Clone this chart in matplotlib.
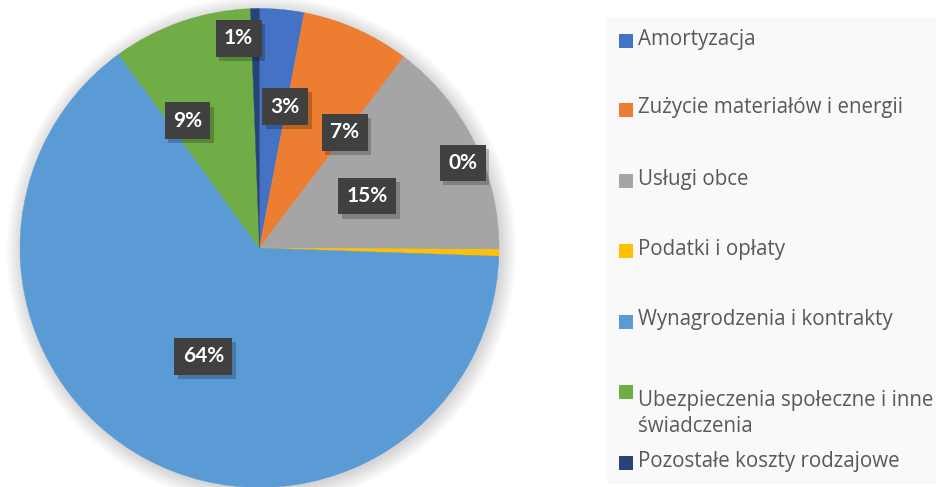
import matplotlib.pyplot as plt
import matplotlib.patheffects as pe
import numpy as np
from matplotlib.patches import Circle, Rectangle

# Data
categories = [
    "Amortyzacja",
    "Zużycie materiałów i energii",
    "Usługi obce",
    "Podatki i opłaty",
    "Wynagrodzenia i kontrakty",
    "Ubezpieczenia społeczne i inne\nświadczenia",
    "Pozostałe koszty rodzajowe",
]
shares = [3.0, 7.3, 14.8, 0.45, 64.45, 9.4, 0.6]

# Style
colors = ["#4472C4", "#ED7D31", "#A5A5A5", "#FFC000", "#5B9BD5", "#70AD47", "#264478"]
# label placement: angle shift from wedge middle (deg) and radius fraction
label_shift = [-4.9, -12.4, -0.6, 23.9, 0.6, 10.4, 4.6]
label_radius = [0.60, 0.60, 0.50, 0.92, 0.51, 0.61, 0.88]
legend_rows_px = [41, 110, 181, 251, 322, 392, 463]

W, H = 937, 487
fig = plt.figure(figsize=(W / 100, H / 100), dpi=100)
fig.patch.set_facecolor("white")

# legend background panel
fig.patches.append(Rectangle((607 / W, 1 - 484 / H), 330 / W, 467 / H,
                             transform=fig.transFigure, facecolor="#F9F9F9",
                             edgecolor="none", zorder=0))

cx, cy, R = 259.5, 248, 239.5
ax = fig.add_axes([(cx - R) / W, (H - cy - R) / H, 2 * R / W, 2 * R / H])
ax.axis("off")

# soft shadow around the pie
for i in range(14):
    ax.add_patch(Circle((0.008, -0.01), 1.0 + i * 0.005, facecolor="black",
                        edgecolor="none", alpha=0.012, zorder=0, clip_on=False))

wedges, _ = ax.pie(shares, colors=colors, startangle=90, counterclock=False,
                   radius=1.0, wedgeprops=dict(linewidth=0.3, antialiased=True))
for w, c in zip(wedges, colors):
    w.set_edgecolor(c)
    w.set_zorder(2)
ax.set_xlim(-1, 1)
ax.set_ylim(-1, 1)

total = sum(shares)
cum = 0.0
for v, shift, r in zip(shares, label_shift, label_radius):
    mid = 90 - 360 * (cum + v / 2) / total
    cum += v
    a = np.deg2rad(mid + shift)
    t = ax.text(r * np.cos(a), r * np.sin(a), f"{v:.0f}%", ha="center", va="center",
                color="white", fontsize=15, fontweight="bold", family=["Lato", "DejaVu Sans"],
                zorder=5,
                bbox=dict(boxstyle="square,pad=0.4", facecolor="#404040",
                          edgecolor="none", linewidth=0))
    t.get_bbox_patch().set_path_effects([
        pe.SimplePatchShadow(offset=(2.5, -3), shadow_rgbFace="black", alpha=0.22),
        pe.Normal(),
    ])

# legend
for name, col, y in zip(categories, colors, legend_rows_px):
    fig.patches.append(Rectangle((619 / W, 1 - (y + 7) / H), 14 / W, 14 / H,
                                 transform=fig.transFigure, facecolor=col,
                                 edgecolor="none", zorder=3))
    fig.text(638 / W, 1 - (y - 2) / H, name, ha="left", va="top" if "\n" in name else "center",
             fontsize=14.8, color="#595959", family=["Open Sans", "DejaVu Sans"],
             linespacing=1.3, zorder=4)

fig.savefig("out.png", dpi=100)
